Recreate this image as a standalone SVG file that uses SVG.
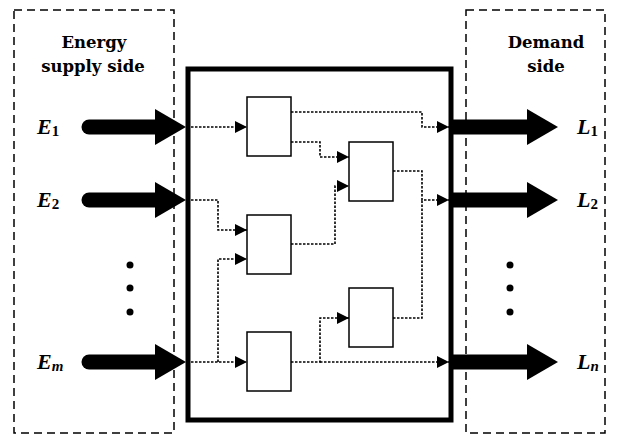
<svg xmlns="http://www.w3.org/2000/svg" width="617" height="436" viewBox="0 0 617 436">
<style>
.zone{fill:none;stroke:#000;stroke-width:1.5;stroke-dasharray:8,5}
.main{fill:none;stroke:#000;stroke-width:5}
.blk{fill:#fff;stroke:#000;stroke-width:1.5}
.dot{fill:none;stroke:#000;stroke-width:1.6;stroke-dasharray:2.5,1.5}
.shaft{stroke:#000;stroke-width:15}
.head{fill:#000}
.hdr{font-family:"DejaVu Serif",serif;font-weight:bold;font-size:16.5px;text-anchor:middle}
.var{font-family:"Liberation Serif",serif;font-weight:bold;font-style:italic;font-size:22px}
.sub{font-size:15px}
.sn{font-style:normal}
</style>
<defs>
<marker id="ah" viewBox="0 0 12 12" refX="12" refY="6" markerWidth="12" markerHeight="12" markerUnits="userSpaceOnUse" orient="auto">
<path d="M0,0 L12,6 L0,12 Z" fill="#000"/>
</marker>
</defs>
<g id="supply-zone">
<rect class="zone" x="14" y="10" width="160" height="423"/>
<text class="hdr" x="94" y="48">Energy</text>
<text class="hdr" x="93" y="72">supply side</text>
</g>
<g id="demand-zone">
<rect class="zone" x="466" y="10" width="139" height="423"/>
<text class="hdr" x="546" y="48">Demand</text>
<text class="hdr" x="546" y="72">side</text>
</g>
<g id="system">
<rect class="main" x="188" y="69" width="263" height="351"/>
</g>
<g id="box1"><rect class="blk" x="247" y="97" width="44" height="59"/></g>
<g id="box2"><rect class="blk" x="349" y="142" width="44" height="59"/></g>
<g id="box3"><rect class="blk" x="247" y="215" width="44" height="59"/></g>
<g id="box4"><rect class="blk" x="349" y="288" width="44" height="59"/></g>
<g id="box5"><rect class="blk" x="247" y="332" width="44" height="59"/></g>
<g id="inputs">
<g id="E1">
<line class="shaft" x1="89" y1="127" x2="158" y2="127" stroke-linecap="round"/>
<path class="head" d="M155,109 L186,127 L155,145 Z"/>
<text class="var" x="37" y="134">E<tspan class="sub sn" dy="2">1</tspan></text>
</g>
<g id="E2">
<line class="shaft" x1="89" y1="200" x2="158" y2="200" stroke-linecap="round"/>
<path class="head" d="M155,182 L186,200 L155,218 Z"/>
<text class="var" x="37" y="207">E<tspan class="sub sn" dy="2">2</tspan></text>
</g>
<g id="Em">
<line class="shaft" x1="89" y1="362" x2="158" y2="362" stroke-linecap="round"/>
<path class="head" d="M155,344 L186,362 L155,380 Z"/>
<text class="var" x="37" y="369">E<tspan class="sub" dy="2">m</tspan></text>
</g>
<g id="dots-left">
<circle cx="130" cy="265" r="3.5"/><circle cx="130" cy="288" r="3.5"/><circle cx="130" cy="312" r="3.5"/>
</g>
</g>
<g id="outputs">
<g id="L1">
<line class="shaft" x1="452" y1="127" x2="530" y2="127"/>
<path class="head" d="M527,109 L558,127 L527,145 Z"/>
<text class="var" x="577" y="134">L<tspan class="sub sn" dy="2">1</tspan></text>
</g>
<g id="L2">
<line class="shaft" x1="452" y1="200" x2="530" y2="200"/>
<path class="head" d="M527,182 L558,200 L527,218 Z"/>
<text class="var" x="577" y="207">L<tspan class="sub sn" dy="2">2</tspan></text>
</g>
<g id="Ln">
<line class="shaft" x1="452" y1="362" x2="530" y2="362"/>
<path class="head" d="M527,344 L558,362 L527,380 Z"/>
<text class="var" x="577" y="369">L<tspan class="sub" dy="2">n</tspan></text>
</g>
<g id="dots-right">
<circle cx="510" cy="265" r="3.5"/><circle cx="510" cy="288" r="3.5"/><circle cx="510" cy="312" r="3.5"/>
</g>
</g>
<g id="connectors">
<path class="dot" d="M191,127 H247" marker-end="url(#ah)"/>
<path class="dot" d="M191,200 H218 V230 H247" marker-end="url(#ah)"/>
<path class="dot" d="M191,362 H247" marker-end="url(#ah)"/>
<path class="dot" d="M218,362 V259 H247" marker-end="url(#ah)"/>
<path class="dot" d="M291,112 H422 V127 H449" marker-end="url(#ah)"/>
<path class="dot" d="M291,142 H320 V157 H349" marker-end="url(#ah)"/>
<path class="dot" d="M291,244 H335 V186 H349" marker-end="url(#ah)"/>
<path class="dot" d="M393,171 H422 V200 H449" marker-end="url(#ah)"/>
<path class="dot" d="M393,318 H422 V200"/>
<path class="dot" d="M291,362 H320 V318 H349" marker-end="url(#ah)"/>
<path class="dot" d="M320,362 H449" marker-end="url(#ah)"/>
</g>
</svg>
